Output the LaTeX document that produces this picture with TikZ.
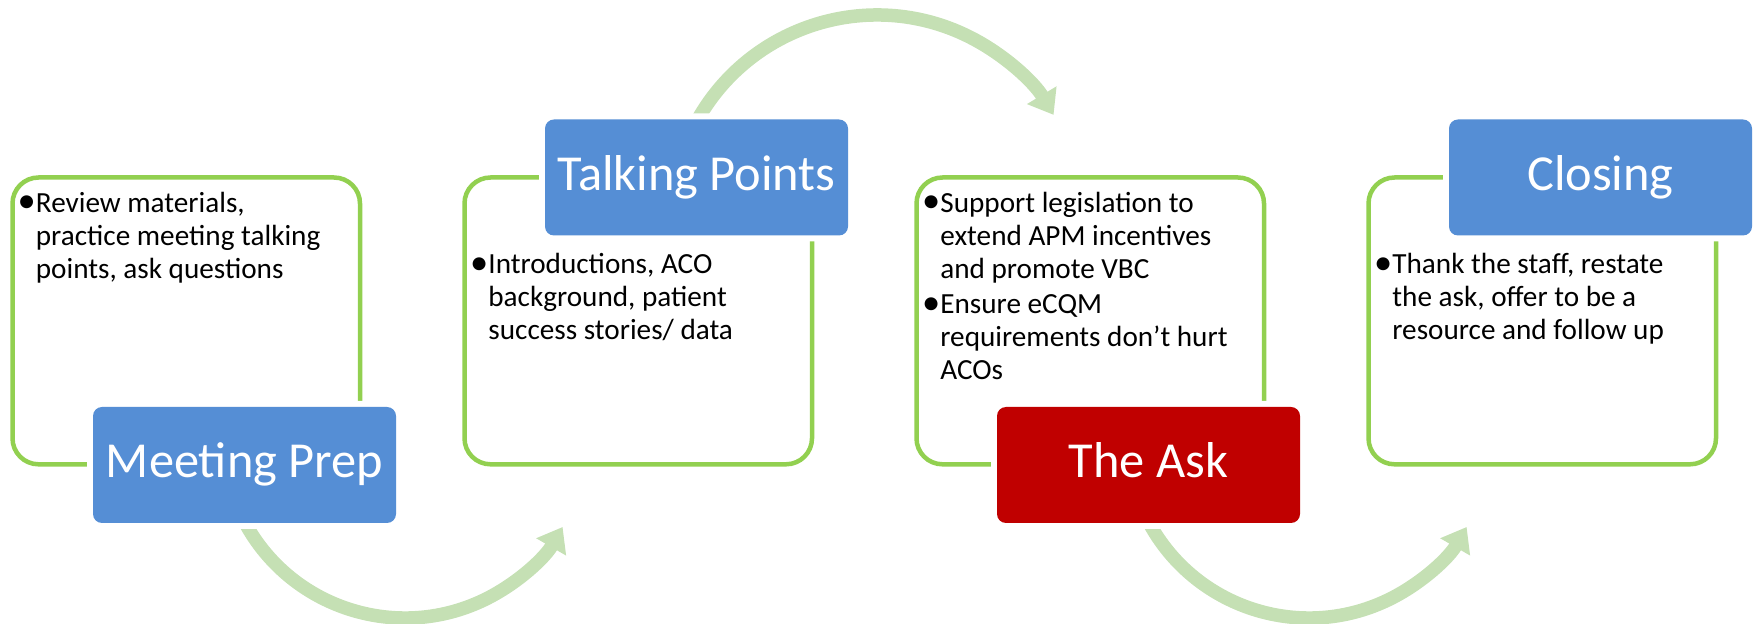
\documentclass[tikz,border=0pt]{standalone}
\usepackage{fontspec}
\setmainfont{Carlito}
\usetikzlibrary{arrows.meta}
\definecolor{lgreen}{HTML}{92D050}
\definecolor{tblue}{HTML}{558ED5}
\definecolor{tred}{HTML}{C00000}
\definecolor{agreen}{HTML}{C5E0B4}
\newcommand{\bul}{\makebox[8pt][r]{\raisebox{-0.25pt}{\scalebox{1.25}{•}}}}
\begin{document}
\begin{tikzpicture}[x=0.5pt,y=-0.5pt,
  gbox/.style={draw=lgreen, line width=2.25pt, rounded corners=13pt,
    minimum width=173.75pt, minimum height=143.4pt, inner sep=0pt},
  hdr/.style={fill=#1, rounded corners=4.5pt, minimum width=151.5pt,
    minimum height=58pt, inner sep=0pt, text=white,
    font=\fontsize{25.2pt}{30pt}\selectfont, text height=16pt, text depth=3pt,
    preaction={draw=white, line width=6pt}},
  btext/.style={anchor=base west, inner sep=0pt,
    font=\fontsize{14.6pt}{16.5pt}\selectfont},
  cyc/.style={draw=agreen, line width=6.75pt,
    -{Triangle[length=11.5pt,width=16.5pt]}}]
\useasboundingbox (0,0) rectangle (1756,624);
% curved arrows
\coordinate (c1) at (405,436);
\coordinate (c2) at (877,221);
\coordinate (c3) at (1309,436);
\draw[cyc] (c1) ++(207:91pt) arc[start angle=207, end angle=330, radius=91pt];
\draw[cyc] (c2) ++(152:103pt) arc[start angle=152, end angle=31, radius=103pt];
\draw[cyc] (c3) ++(207:91pt) arc[start angle=207, end angle=330, radius=91pt];
% green frames
\node[gbox] (g1) at (186.25,320.9) {};
\node[gbox] (g2) at (638.25,320.9) {};
\node[gbox] (g3) at (1090.25,320.9) {};
\node[gbox] (g4) at (1542.25,320.9) {};
% headers
\node[hdr=tblue] (h1) at (244.5,465) {Meeting Prep};
\node[hdr=tblue] (h2) at (696.5,177.5) {Talking Points};
\node[hdr=tred] (h3) at (1148.5,465) {The Ask};
\node[hdr=tblue] (h4) at (1600.5,177.5) {Closing};
% body texts
\node[btext] (b1) at (19.5,212.5) {\begin{tabular}[t]{@{}l@{}l@{}}
\bul & Review materials,\\ & practice meeting talking\\ & points, ask questions\end{tabular}};
\node[btext] (b2) at (472,274) {\begin{tabular}[t]{@{}l@{}l@{}}
\bul & Introductions, ACO\\ & background, patient\\ & success stories/ data\end{tabular}};
\node[btext] (b3) at (924,212.5) {\begin{tabular}[t]{@{}l@{}l@{}}
\bul & Support legislation to\\ & extend APM incentives\\ & and promote VBC\\[1.25pt]
\bul & Ensure eCQM\\ & requirements don’t hurt\\ & ACOs\end{tabular}};
\node[btext] (b4) at (1376,274) {\begin{tabular}[t]{@{}l@{}l@{}}
\bul & Thank the staff, restate\\ & the ask, offer to be a\\ & resource and follow up\end{tabular}};
\end{tikzpicture}
\end{document}
